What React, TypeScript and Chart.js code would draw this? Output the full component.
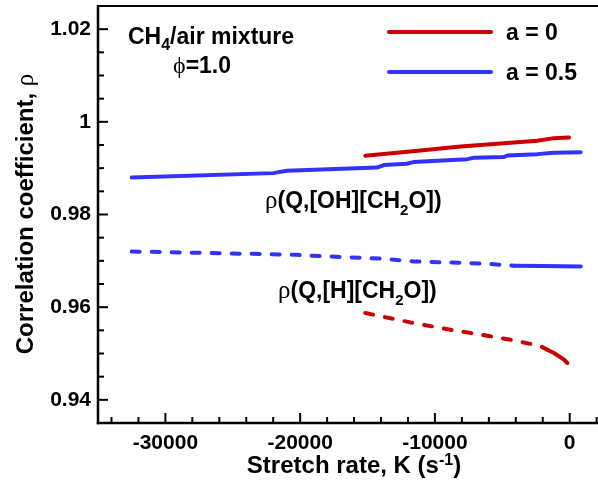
import React, { useEffect, useRef } from 'react';
import { Chart, registerables } from 'chart.js';

Chart.register(...registerables);

// Axis ranges and ticks
const xMin = -35000;
const xMax = 2100;
const yMin = 0.935;
const yMax = 1.025;
const xMajorTicks = [-30000, -20000, -10000, 0];
const yMajorTicks = [0.94, 0.96, 0.98, 1.0, 1.02];
const xMinorStep = 2000;
const yMinorStep = 0.005;

// rho(Q,[OH][CH2O]), a = 0 (red solid)
const ohA0K = [-15170, -11080, -8100, -2400, -1165, -50];
const ohA0Rho = [0.99267, 0.99382, 0.99468, 0.9959, 0.99648, 0.99662];

// rho(Q,[OH][CH2O]), a = 0.5 (blue solid)
const ohA05K = [-32500, -22000, -21000, -14300, -13800, -12100, -11600, -7600, -7100, -4900, -4630, -2400, -1170, 820];
const ohA05Rho = [0.98799, 0.98893, 0.98943, 0.99014, 0.99066, 0.99094, 0.99131, 0.99195, 0.99223, 0.99239, 0.99273, 0.99303, 0.99331, 0.99346];

// rho(Q,[H][CH2O]), a = 0.5 (blue dashed)
const hA05K = [-32500, -20250, -19630, -13800, -11580, -8850, -6120, -5130, -4140, -2000, 820];
const hA05Rho = [0.97202, 0.97131, 0.97116, 0.97045, 0.96987, 0.96965, 0.96937, 0.96915, 0.96894, 0.96888, 0.96879];

// rho(Q,[H][CH2O]), a = 0 (red dashed)
const hA0K = [-15170, -11820, -8850, -6120, -4140, -2650, -2280, -1660, -1170, -420, -170];
const hA0Rho = [0.95874, 0.95671, 0.95513, 0.95384, 0.95283, 0.9519, 0.95175, 0.95082, 0.95011, 0.94866, 0.94795];

// where the dashed curves become dense (drawn continuous)
const hA05DenseFrom = -4600;
const hA0DenseFrom = -1800;

const RED = '#cc0000';
const BLUE = '#3232ff';
const SANS = '"Liberation Sans", Arial, sans-serif';
const SERIF = '"Liberation Serif", "Times New Roman", serif';
const B = (s: number) => `bold ${s}px ${SANS}`;
const S = (s: number) => `${s}px ${SERIF}`;

const toPts = (xs: number[], ys: number[]) => xs.map((x, i) => ({ x, y: ys[i] }));

type Run = { t: string; f: string; dy?: number };

function drawRuns(ctx: CanvasRenderingContext2D, runs: Run[], x: number, y: number, align: 'left' | 'center') {
  let w = 0;
  for (const r of runs) {
    ctx.font = r.f;
    w += ctx.measureText(r.t).width;
  }
  let cx = align === 'center' ? x - w / 2 : x;
  ctx.textAlign = 'left';
  ctx.textBaseline = 'alphabetic';
  for (const r of runs) {
    ctx.font = r.f;
    ctx.fillText(r.t, cx, y + (r.dy || 0));
    cx += ctx.measureText(r.t).width;
  }
}

const framePlugin = {
  id: 'frameAndText',
  afterDraw(chart: any) {
    const { ctx, chartArea: a, scales } = chart;
    const xs = scales.x;
    const ys = scales.y;
    const seg = (x1: number, y1: number, x2: number, y2: number) => {
      ctx.beginPath();
      ctx.moveTo(x1, y1);
      ctx.lineTo(x2, y2);
      ctx.stroke();
    };
    ctx.save();
    ctx.strokeStyle = '#000';
    ctx.lineCap = 'butt';
    // frame
    ctx.lineWidth = 2;
    seg(a.left, a.top, a.right, a.top);
    ctx.lineWidth = 2.5;
    seg(a.left, a.top - 1, a.left, a.bottom + 1.25);
    seg(a.left - 1.25, a.bottom, a.right, a.bottom);
    // inward ticks
    ctx.lineWidth = 2;
    for (let i = Math.ceil(xMin / xMinorStep); i * xMinorStep <= xMax; i++) {
      const v = i * xMinorStep;
      if (v <= xMin) continue;
      const px = xs.getPixelForValue(v);
      const major = xMajorTicks.includes(v);
      seg(px, a.bottom, px, a.bottom - (major ? 10 : 6));
    }
    for (let i = Math.ceil(yMin / yMinorStep - 1e-9); i * yMinorStep <= yMax + 1e-9; i++) {
      const v = i * yMinorStep;
      if (v <= yMin + 1e-9 || v >= yMax - 1e-9) continue;
      const py = ys.getPixelForValue(v);
      const major = yMajorTicks.some((m) => Math.abs(m - v) < 1e-9);
      seg(a.left, py, a.left + (major ? 10 : 6), py);
    }

    // legend
    ctx.lineCap = 'round';
    ctx.lineWidth = 4;
    ctx.strokeStyle = RED;
    seg(389, 32, 491, 32);
    ctx.strokeStyle = BLUE;
    seg(389, 72, 491, 72);
    ctx.fillStyle = '#000';
    drawRuns(ctx, [{ t: 'a = 0', f: B(23) }], 506, 40, 'left');
    drawRuns(ctx, [{ t: 'a = 0.5', f: B(23) }], 506, 80, 'left');

    // annotations
    drawRuns(ctx, [
      { t: 'CH', f: B(23) },
      { t: '4', f: B(16), dy: 6 },
      { t: '/air mixture', f: B(23) },
    ], 128, 44, 'left');
    drawRuns(ctx, [
      { t: 'ϕ', f: S(24) },
      { t: '=1.0', f: B(23) },
    ], 173, 73, 'left');
    drawRuns(ctx, [
      { t: 'ρ', f: S(25) },
      { t: '(Q,[OH][CH', f: B(23) },
      { t: '2', f: B(15), dy: 7 },
      { t: 'O])', f: B(23) },
    ], 265, 208, 'left');
    drawRuns(ctx, [
      { t: 'ρ', f: S(25) },
      { t: '(Q,[H][CH', f: B(23) },
      { t: '2', f: B(15), dy: 7 },
      { t: 'O])', f: B(23) },
    ], 278, 298, 'left');

    // axis titles
    drawRuns(ctx, [
      { t: 'Stretch rate, K (s', f: B(24) },
      { t: '-1', f: B(16), dy: -8 },
      { t: ')', f: B(24) },
    ], 354, 473, 'center');
    ctx.save();
    ctx.translate(33, 214);
    ctx.rotate(-Math.PI / 2);
    drawRuns(ctx, [
      { t: 'Correlation coefficient, ', f: B(24) },
      { t: 'ρ', f: S(25) },
    ], 0, 0, 'center');
    ctx.restore();
    ctx.restore();
  },
};

export default function App() {
  const ref = useRef<HTMLCanvasElement | null>(null);
  useEffect(() => {
    if (!ref.current) return;
    const dashed = (from: number) => ({
      borderDash: (c: any) => (c.p0.parsed.x >= from ? [] : [8, 12]),
    });
    const common = {
      borderWidth: 4,
      borderCapStyle: 'round',
      borderJoinStyle: 'round',
      pointRadius: 0,
      tension: 0,
    };
    const chart = new Chart(ref.current, {
      type: 'line',
      data: {
        datasets: [
          { ...common, label: 'a = 0', data: toPts(ohA0K, ohA0Rho), borderColor: RED },
          { ...common, label: 'a = 0.5', data: toPts(ohA05K, ohA05Rho), borderColor: BLUE },
          {
            ...common,
            label: 'a = 0.5 H',
            data: toPts(hA05K, hA05Rho),
            borderColor: BLUE,
            borderDash: [8, 12],
            segment: dashed(hA05DenseFrom),
          },
          {
            ...common,
            label: 'a = 0 H',
            data: toPts(hA0K, hA0Rho),
            borderColor: RED,
            borderDash: [8, 12],
            segment: dashed(hA0DenseFrom),
          },
        ],
      } as any,
      options: {
        responsive: false,
        animation: false,
        layout: { padding: { top: 6, right: 0, left: 0, bottom: 0 } },
        plugins: { legend: { display: false }, tooltip: { enabled: false } },
        scales: {
          x: {
            type: 'linear',
            min: xMin,
            max: xMax,
            position: 'bottom',
            grid: { display: false, drawTicks: false },
            border: { display: false },
            afterBuildTicks: (s: any) => {
              s.ticks = xMajorTicks.map((v) => ({ value: v }));
            },
            afterFit: (s: any) => {
              s.height = 59;
              s.paddingLeft = 0;
              s.paddingRight = 0;
              s.paddingTop = 0;
              s.paddingBottom = 0;
            },
            ticks: {
              color: '#000',
              font: { family: SANS, size: 21, weight: 'bold' },
              padding: 8,
              maxRotation: 0,
              autoSkip: false,
              callback: (v: any) => String(v),
            },
          },
          y: {
            type: 'linear',
            min: yMin,
            max: yMax,
            grid: { display: false, drawTicks: false },
            border: { display: false },
            afterBuildTicks: (s: any) => {
              s.ticks = yMajorTicks.map((v) => ({ value: v }));
            },
            afterFit: (s: any) => {
              s.width = 98;
              s.paddingLeft = 0;
              s.paddingRight = 0;
              s.paddingTop = 0;
              s.paddingBottom = 0;
            },
            ticks: {
              color: '#000',
              font: { family: SANS, size: 21, weight: 'bold' },
              padding: 7,
              autoSkip: false,
              callback: (v: any) => String(parseFloat(Number(v).toFixed(2))),
            },
          },
        },
      } as any,
      plugins: [framePlugin],
    });
    return () => chart.destroy();
  }, []);
  return (
    <div style={{ position: 'fixed', left: 0, top: 0, width: 598, height: 482, background: '#fff' }}>
      <canvas ref={ref} width={598} height={482} style={{ display: 'block' }} />
    </div>
  );
}
